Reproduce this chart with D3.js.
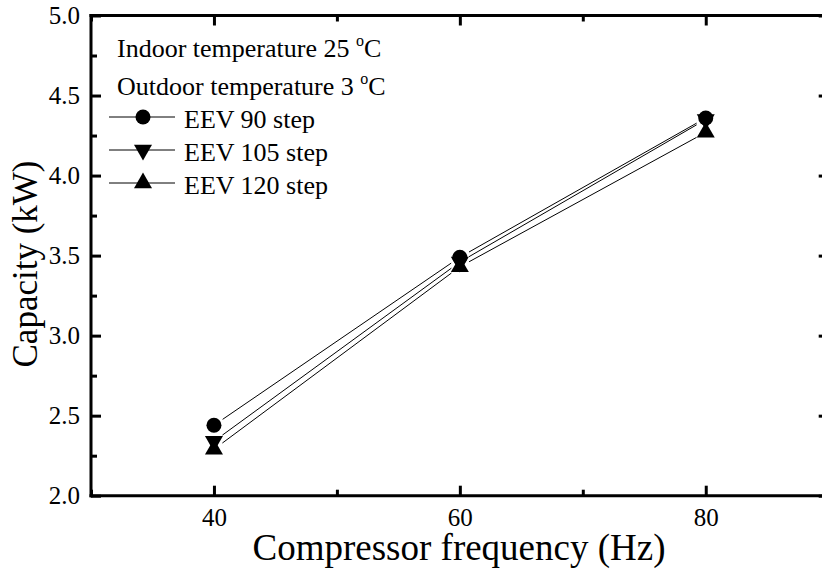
<!DOCTYPE html>
<html>
<head>
<meta charset="utf-8">
<script src="https://cdn.jsdelivr.net/npm/d3@7"></script>
</head>
<body style="margin:0; background:#fff">
<svg id="chart" width="822" height="571"></svg>
<script>
// Compressor frequency (Hz) and heating capacity (kW) per EEV opening
const freq = [40, 60, 80];
const eev90 = [2.44, 3.49, 4.36];
const eev105 = [2.34, 3.46, 4.35];
const eev120 = [2.29, 3.43, 4.27];
const seriesNames = ["EEV 90 step", "EEV 105 step", "EEV 120 step"];
const seriesSymbols = ["circle", "down", "up"];
const xMajor = [40, 60, 80];
const xMinor = [30, 50, 70, 90];
const yMajor = [2.0, 2.5, 3.0, 3.5, 4.0, 4.5, 5.0];
const yMinor = [2.25, 2.75, 3.25, 3.75, 4.25, 4.75];

const FONT = "Liberation Serif";

const series = [eev90, eev105, eev120].map((vals, i) => ({
  name: seriesNames[i],
  symbol: seriesSymbols[i],
  points: freq.map((f, j) => ({ x: f, y: vals[j] }))
}));

const svg = d3.select("#chart");
const plotLeft = 91, plotRight = 828.7, plotTop = 15.5, plotBottom = 495.7;

const x = d3.scaleLinear().domain([30, 90]).range([plotLeft, plotRight]);
const y = d3.scaleLinear().domain([2.0, 5.0]).range([plotBottom, plotTop]);

function markerPath(kind) {
  if (kind === "circle") return d3.symbol(d3.symbolCircle, Math.PI * 7.5 * 7.5)();
  return d3.symbol(d3.symbolTriangle, 18 * 18 * Math.sqrt(3) / 4)();
}
function markerTransform(kind, px, py) {
  return kind === "down" ? `translate(${px},${py}) rotate(180)` : `translate(${px},${py})`;
}

// Axes with inward ticks on all four sides
function styleAxis(g) {
  g.select(".domain").remove();
  g.selectAll(".tick line").attr("stroke", "#000").attr("stroke-width", 3);
  g.selectAll(".tick text").attr("fill", "#000")
    .style("font-family", FONT).style("font-size", "25px");
}

svg.append("g").attr("transform", `translate(0,${plotBottom})`)
  .call(d3.axisBottom(x).tickValues(xMajor).tickSize(-10).tickPadding(13).tickFormat(d3.format("d")))
  .call(styleAxis);
svg.append("g").attr("transform", `translate(0,${plotBottom})`)
  .call(d3.axisBottom(x).tickValues(xMinor).tickSize(-6).tickFormat(""))
  .call(styleAxis);
svg.append("g").attr("transform", `translate(0,${plotTop})`)
  .call(d3.axisTop(x).tickValues(xMajor).tickSize(-10).tickFormat(""))
  .call(styleAxis);
svg.append("g").attr("transform", `translate(0,${plotTop})`)
  .call(d3.axisTop(x).tickValues(xMinor).tickSize(-6).tickFormat(""))
  .call(styleAxis);
svg.append("g").attr("transform", `translate(${plotLeft},0)`)
  .call(d3.axisLeft(y).tickValues(yMajor).tickSize(-10).tickPadding(11).tickFormat(d3.format(".1f")))
  .call(styleAxis);
svg.append("g").attr("transform", `translate(${plotLeft},0)`)
  .call(d3.axisLeft(y).tickValues(yMinor).tickSize(-6).tickFormat(""))
  .call(styleAxis);
svg.append("g").attr("transform", `translate(${plotRight},0)`)
  .call(d3.axisRight(y).tickValues(yMajor).tickSize(-10).tickFormat(""))
  .call(styleAxis);
svg.append("g").attr("transform", `translate(${plotRight},0)`)
  .call(d3.axisRight(y).tickValues(yMinor).tickSize(-6).tickFormat(""))
  .call(styleAxis);

// Frame
const frame = svg.append("g").attr("stroke", "#000").attr("stroke-width", 3).attr("stroke-linecap", "square");
frame.append("line").attr("x1", plotLeft).attr("x2", plotRight).attr("y1", plotBottom).attr("y2", plotBottom);
frame.append("line").attr("x1", plotLeft).attr("x2", plotRight).attr("y1", plotTop).attr("y2", plotTop);
frame.append("line").attr("x1", plotLeft).attr("x2", plotLeft).attr("y1", plotTop).attr("y2", plotBottom);
frame.append("line").attr("x1", plotRight).attr("x2", plotRight).attr("y1", plotTop).attr("y2", plotBottom);

// Connecting lines, with a small gap around each symbol
const gap = 10.5;
const lines = svg.append("g").attr("stroke", "#000").attr("stroke-width", 1).attr("fill", "none");
series.forEach(s => {
  for (let j = 0; j < s.points.length - 1; j++) {
    const x1 = x(s.points[j].x), y1 = y(s.points[j].y);
    const x2 = x(s.points[j + 1].x), y2 = y(s.points[j + 1].y);
    const len = Math.hypot(x2 - x1, y2 - y1);
    const ux = (x2 - x1) / len, uy = (y2 - y1) / len;
    lines.append("line")
      .attr("x1", x1 + ux * gap).attr("y1", y1 + uy * gap)
      .attr("x2", x2 - ux * gap).attr("y2", y2 - uy * gap);
  }
});

// Symbols
series.forEach(s => {
  svg.append("g").selectAll("path").data(s.points).join("path")
    .attr("d", markerPath(s.symbol))
    .attr("transform", d => markerTransform(s.symbol, x(d.x), y(d.y)))
    .attr("fill", "#000");
});

// Condition notes
function conditionText(yBase, label, value) {
  const t = svg.append("text").attr("x", 117).attr("y", yBase).attr("fill", "#000")
    .style("font-family", FONT).style("font-size", "26px");
  t.append("tspan").text(`${label} ${value} `);
  t.append("tspan").style("font-size", "16px").attr("dy", -11).text("o");
  t.append("tspan").attr("dy", 11).text("C");
}
conditionText(57, "Indoor temperature", 25);
conditionText(95, "Outdoor temperature", 3);

// Legend
const legendRows = [117, 150, 183];
series.forEach((s, i) => {
  const ly = legendRows[i];
  const g = svg.append("g");
  g.append("line").attr("x1", 109).attr("x2", 175).attr("y1", ly).attr("y2", ly)
    .attr("stroke", "#000").attr("stroke-width", 1);
  g.append("path").attr("d", markerPath(s.symbol))
    .attr("transform", markerTransform(s.symbol, 143, ly)).attr("fill", "#000");
  g.append("text").attr("x", 184).attr("y", ly + 11).attr("fill", "#000")
    .style("font-family", FONT).style("font-size", "26px").text(s.name);
});

// Axis titles
svg.append("text").attr("x", 459).attr("y", 560).attr("text-anchor", "middle").attr("fill", "#000")
  .style("font-family", FONT).style("font-size", "37px").text("Compressor frequency (Hz)");
svg.append("text").attr("transform", "translate(37,264) rotate(-90)").attr("text-anchor", "middle").attr("fill", "#000")
  .style("font-family", FONT).style("font-size", "35px").text("Capacity (kW)");
</script>
</body>
</html>
